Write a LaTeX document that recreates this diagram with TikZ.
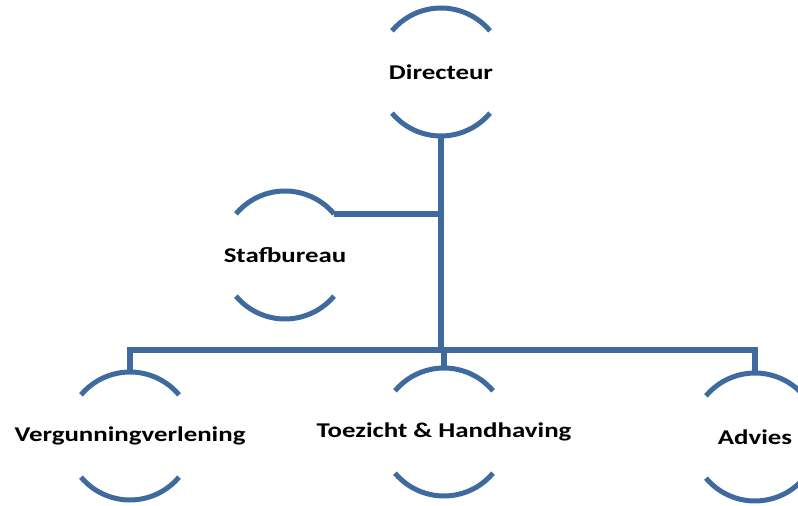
\documentclass[tikz,border=0pt]{standalone}
\usepackage{fontspec}
\usepackage{graphicx}
\setmainfont{Carlito}
\usepackage{tikz}
\definecolor{orgblue}{RGB}{62,106,158}
\tikzset{unit/.style = {circle, minimum size = 128pt, inner sep = 0, outer sep = 0}}
\tikzset{link/.style = {draw = orgblue, line width = 6pt}}
\tikzset{bow/.style = {draw = orgblue, line width = 5pt}}
\tikzset{every label/.style = {font = \bfseries\fontsize{21}{24}\selectfont, inner sep = 0}}
\newcommand{\wide}[1]{\scalebox{1.28}[1]{#1}}
\newcommand{\bows}[1]{\draw [bow] (#1.40) arc (40:140:64); \draw [bow] (#1.220) arc (220:320:64);}

\begin{document}
\begin{tikzpicture}[x=1pt,y=1pt]
        \useasboundingbox (0,0) rectangle (798,506);
        \node [unit, label={center:\wide{Directeur}}] (dir) at (441,434) {};
        \node [unit, label={center:\wide{Stafbureau}}] (stf) at (285,251) {};
        \node [unit, label={center:\wide{Vergunningverlening}}] (vrg) at (130,70) {};
        \node [unit, label={center:\wide{Toezicht \& Handhaving}}] (toe) at (444,74) {};
        \node [unit, label={center:\wide{Advies}}] (adv) at (755,69) {};
        \coordinate (split) at (441,156);
        \bows{dir} \bows{stf} \bows{vrg} \bows{toe} \bows{adv}
        \draw [link] (dir.south) -- (split);
        \draw [link] (stf.40) -- (stf.40 -| split);
        \draw [link] (vrg.north) |- (split) -| (adv.north);
        \draw [link] (split -| toe.north) -- (toe.north);
    \end{tikzpicture}
\end{document}
